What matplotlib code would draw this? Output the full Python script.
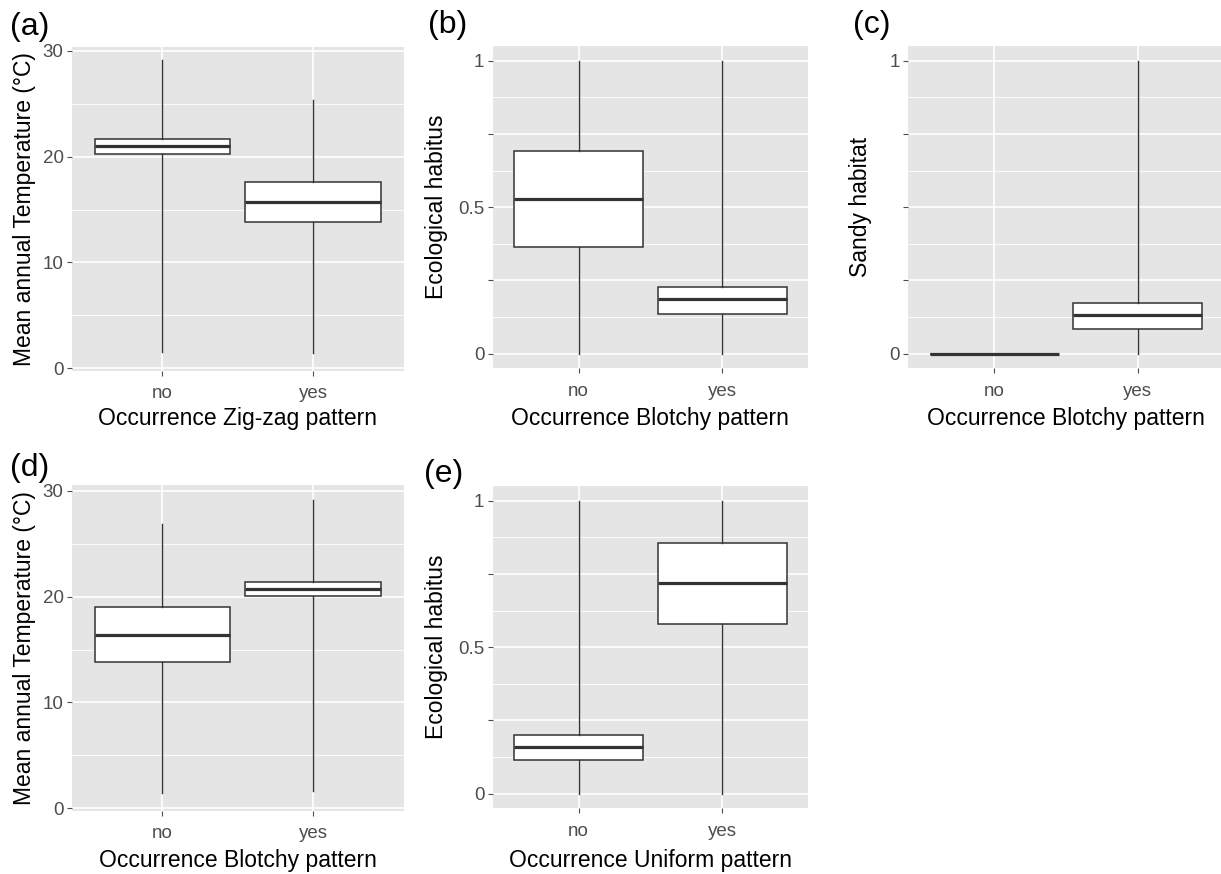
import matplotlib
matplotlib.use("Agg")
import matplotlib.pyplot as plt
from matplotlib.ticker import FixedLocator

plt.rcParams['font.family'] = ['Liberation Sans', 'DejaVu Sans']

# ---- data (five-number summaries) ----
categories = ["no", "yes"]

# (a) Mean annual temperature vs Zig-zag pattern
a_whislo = [1.5, 1.4]
a_q1 = [20.3, 13.8]
a_med = [21.0, 15.7]
a_q3 = [21.7, 17.6]
a_whishi = [29.1, 25.4]

# (b) Ecological habitus vs Blotchy pattern
b_whislo = [0.0, 0.0]
b_q1 = [0.365, 0.137]
b_med = [0.528, 0.185]
b_q3 = [0.692, 0.228]
b_whishi = [1.0, 1.0]

# (c) Sandy habitat vs Blotchy pattern
c_whislo = [0.0, 0.0]
c_q1 = [0.0, 0.085]
c_med = [0.0, 0.133]
c_q3 = [0.0, 0.174]
c_whishi = [0.0, 1.0]

# (d) Mean annual temperature vs Blotchy pattern
d_whislo = [1.4, 1.6]
d_q1 = [13.8, 20.1]
d_med = [16.4, 20.7]
d_q3 = [19.0, 21.4]
d_whishi = [26.9, 29.1]

# (e) Ecological habitus vs Uniform pattern
e_whislo = [0.0, 0.0]
e_q1 = [0.115, 0.58]
e_med = [0.158, 0.718]
e_q3 = [0.199, 0.855]
e_whishi = [1.0, 1.0]

temp_ticks = [0, 10, 20, 30]
temp_labels = ["0", "10", "20", "30"]
temp_minor = [5, 15, 25]
unit_ticks = [0, 0.25, 0.5, 0.75, 1]
b_labels = ["0", "", "0.5", "", "1"]
c_labels = ["0", "", "", "", "1"]
unit_minor = [0.125, 0.375, 0.625, 0.875]

W, H = 1221, 874
fig = plt.figure(figsize=(W / 100, H / 100), dpi=100)

BG = "#E5E5E5"
LINE = "#333333"
TICKC = "#4D4D4D"


def px_axes(left, top, right, bottom):
    return fig.add_axes([left / W, 1 - bottom / H, (right - left) / W, (bottom - top) / H])


def panel(rect, whislo, q1, med, q3, whishi, ylim, ticks, labels, minor,
          letter, letter_xy, xlabel, ylabel, ylabel_x, xlabel_y):
    ax = px_axes(*rect)
    ax.set_facecolor(BG)
    for s in ax.spines.values():
        s.set_visible(False)
    stats = []
    for i in range(len(categories)):
        stats.append(dict(med=med[i], q1=q1[i], q3=q3[i],
                          whislo=whislo[i], whishi=whishi[i], fliers=[]))
    ax.bxp(stats, positions=[1, 2], widths=0.9, showcaps=False,
           patch_artist=True,
           boxprops=dict(facecolor="white", edgecolor=LINE, linewidth=1.1),
           medianprops=dict(color=LINE, linewidth=2.3, solid_capstyle="butt"),
           whiskerprops=dict(color=LINE, linewidth=1.0),
           zorder=3)
    ax.set_xlim(0.4, 2.6)
    ax.set_ylim(*ylim)
    ax.xaxis.set_major_locator(FixedLocator([1, 2]))
    ax.set_xticklabels(categories)
    ax.yaxis.set_major_locator(FixedLocator(ticks))
    ax.set_yticklabels(labels)
    ax.yaxis.set_minor_locator(FixedLocator(minor))
    ax.tick_params(axis="both", which="major", length=3.5, width=0.8,
                   color=TICKC, labelcolor=TICKC, labelsize=13.5)
    ax.tick_params(axis="y", which="major", pad=2.5)
    ax.tick_params(axis="x", which="major", pad=7)
    ax.tick_params(axis="y", which="minor", length=0)
    ax.grid(True, which="major", color="white", linewidth=1.2, zorder=0)
    ax.grid(True, which="minor", axis="y", color="white", linewidth=0.6, zorder=0)
    ax.set_axisbelow(True)
    # panel letter
    fig.text(letter_xy[0] / W, 1 - letter_xy[1] / H, letter, fontsize=23,
             ha="left", va="center", color="black")
    # axis titles
    l, t, r, b = rect
    fig.text(ylabel_x / W, 1 - ((t + b) / 2) / H, ylabel, rotation=90,
             fontsize=16.5, ha="center", va="center", color="black")
    fig.text(((l + r) / 2) / W, 1 - xlabel_y / H, xlabel,
             fontsize=16.5, ha="center", va="center", color="black")
    return ax


panel((72, 46.7, 403.5, 370.6), a_whislo, a_q1, a_med, a_q3, a_whishi,
      (-0.23, 30.4), temp_ticks, temp_labels, temp_minor,
      "(a)", (10, 27), "Occurrence Zig-zag pattern",
      "Mean annual Temperature (°C)", 25, 418)

panel((492.7, 46, 808, 368.3), b_whislo, b_q1, b_med, b_q3, b_whishi,
      (-0.05, 1.05), unit_ticks, b_labels, unit_minor,
      "(b)", (428, 25), "Occurrence Blotchy pattern",
      "Ecological habitus", 436, 418)

panel((908.3, 46, 1223.6, 368.3), c_whislo, c_q1, c_med, c_q3, c_whishi,
      (-0.05, 1.05), unit_ticks, c_labels, unit_minor,
      "(c)", (853, 25), "Occurrence Blotchy pattern",
      "Sandy habitat", 860, 418)

panel((72, 485, 403.5, 810.7), d_whislo, d_q1, d_med, d_q3, d_whishi,
      (-0.23, 30.55), temp_ticks, temp_labels, temp_minor,
      "(d)", (10, 468), "Occurrence Blotchy pattern",
      "Mean annual Temperature (°C)", 25, 860)

panel((492.7, 486, 808, 808.3), e_whislo, e_q1, e_med, e_q3, e_whishi,
      (-0.05, 1.05), unit_ticks, b_labels, unit_minor,
      "(e)", (424, 474), "Occurrence Uniform pattern",
      "Ecological habitus", 436, 860)

fig.savefig("out.png", dpi=100, facecolor="white")
